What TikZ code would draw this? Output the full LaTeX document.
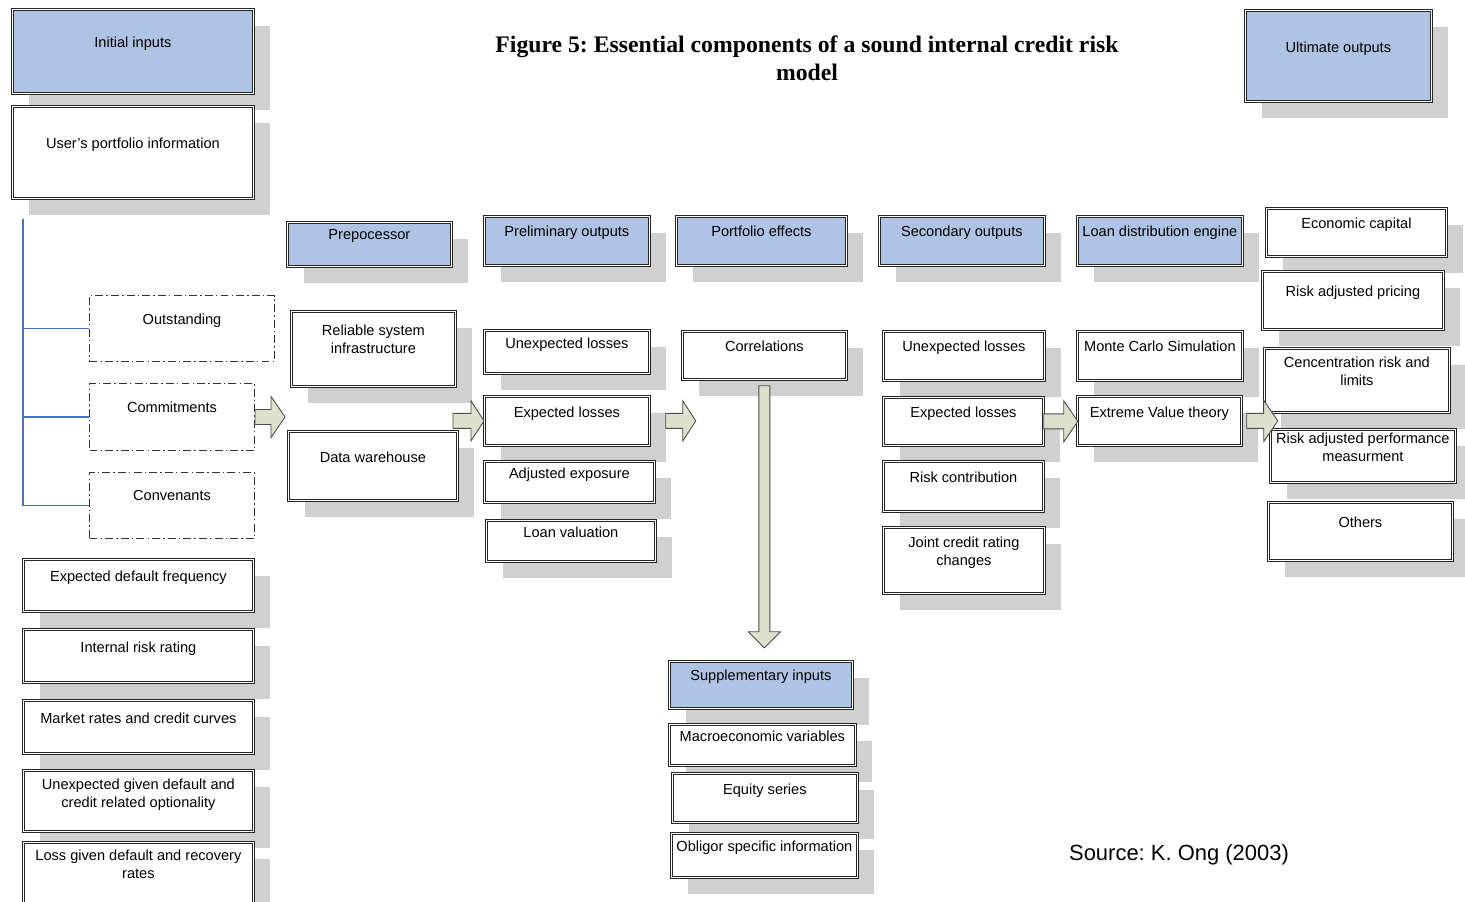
\documentclass[tikz,border=0pt]{standalone}
\usepackage{fontspec}
\setmainfont{Liberation Sans}
\newfontfamily\titlefont{Liberation Serif}
\usetikzlibrary{positioning,calc,shadows}

\definecolor{headblue}{RGB}{175,195,228}
\definecolor{shadowgray}{RGB}{208,208,208}
\definecolor{arrowfill}{RGB}{221,224,205}
\definecolor{treeblue}{RGB}{68,114,196}

\begin{document}
\frenchspacing
\begin{tikzpicture}[
        x=0.02cm, y=-0.02cm,
        sz/.style 2 args={minimum width=#1*0.02cm, minimum height=#2*0.02cm},
        txt/.style={anchor=north, inner sep=0pt, align=center, font=\fontsize{8.3}{10.2}\selectfont},
        tl/.style 2 args={label={[txt, yshift=-(#1+1.2)*0.02cm]north:{#2}}},
        box/.style={rectangle, anchor=north west, draw=black!85, double, double distance=0.8pt, line width=0.45pt, fill=white, inner sep=0pt,
            general shadow={fill=shadowgray, shadow xshift=0.34cm, shadow yshift=-0.34cm}},
        head/.style={box, fill=headblue},
        option/.style={rectangle, anchor=north west, draw=black!80, line width=0.6pt, dash pattern=on 4.5pt off 1.8pt on 0.8pt off 1.8pt, inner sep=0pt},
        tree/.style={treeblue, line width=0.7pt},
        fat/.style={draw=black!70, fill=arrowfill, line width=0.5pt, line join=miter},
        pics/fatarrow/.style n args={4}{code={
            \draw[fat] (0,{-#2/2}) -- ({#1-#4},{-#2/2}) -- ({#1-#4},{-#3/2}) -- (#1,0)
                -- ({#1-#4},{#3/2}) -- ({#1-#4},{#2/2}) -- (0,{#2/2}) -- cycle;
        }}
    ]
        \useasboundingbox (0,0) rectangle (1465,902);

        % Titlu
        \node[font=\titlefont\bfseries\fontsize{13.5}{15.9}\selectfont, align=center] (title) at (807,58)
            {Figure 5: Essential components of a sound internal credit risk\\model};

        % Initial inputs
        \node[head, sz={241}{84}, tl={26}{Initial inputs}] (ini) at (12,9) {};
        \node[box, sz={241}{92}, tl={30}{User's portfolio information}] (portf) at (12,106) {};
        \node[option, sz={185}{66}, tl={17}{Outstanding}] (outst) at (89,295) {};
        \node[option, sz={165}{67}, tl={17}{Commitments}] (commit) at (89,383) {};
        \node[option, sz={165}{66}, tl={17}{Convenants}] (conv) at (89,472) {};
        \node[box, sz={230}{52}, tl={10}{Expected default frequency}] (edf) at (23,559) {};
        \node[box, sz={230}{53}, tl={11}{Internal risk rating}] (irr) at (23,629) {};
        \node[box, sz={230}{53}, tl={11}{Market rates and credit curves}] (mrc) at (23,700) {};
        \node[box, sz={230}{61}, tl={7}{Unexpected given default and\\credit related optionality}] (ugd) at (23,770) {};
        \node[box, sz={230}{80}, tl={6}{Loss given default and recovery\\rates}] (lgd) at (23,842) {};

        % Arbore
        \coordinate (trunk) at ($(portf.south west)+(11,20)$);
        \draw[tree] (trunk) |- (conv.west);
        \draw[tree] (trunk |- outst.west) -- (outst.west);
        \draw[tree] (trunk |- commit.west) -- (commit.west);

        % Preprocessor
        \node[head, sz={164}{44}, tl={6}{Prepocessor}] (prep) at (287,222) {};
        \node[box, sz={164}{75}, tl={12}{Reliable system\\infrastructure}] (relsys) at (291,311) {};
        \node[box, sz={169}{69}, tl={19}{Data warehouse}] (datawh) at (288,431) {};

        % Preliminary outputs
        \node[head, sz={165}{49}, tl={8}{Preliminary outputs}] (prelim) at (484,216) {};
        \node[box, sz={165}{43}, tl={6}{Unexpected losses}] (unexp) at (484,330) {};
        \node[box, sz={165}{49}, tl={9}{Expected losses}] (exploss) at (484,396) {};
        \node[box, sz={170}{41}, tl={5}{Adjusted exposure}] (adjexp) at (484,461) {};
        \node[box, sz={169}{41}, tl={5}{Loan valuation}] (loanval) at (486,520) {};

        % Portfolio effects
        \node[head, sz={170}{49}, tl={8}{Portfolio effects}] (portef) at (676,216) {};
        \node[box, sz={164}{48}, tl={8}{Correlations}] (corr) at (682,331) {};

        % Supplementary inputs
        \node[head, sz={183}{47}, tl={7}{Supplementary inputs}] (supp) at (669,661) {};
        \node[box, sz={186}{41}, tl={5}{Macroeconomic variables}] (macro) at (669,724) {};
        \node[box, sz={185}{49}, tl={9}{Equity series}] (equity) at (672,773) {};
        \node[box, sz={186}{44}, tl={6}{Obligor specific information}] (oblig) at (671,833) {};

        % Secondary outputs
        \node[head, sz={165}{49}, tl={8}{Secondary outputs}] (secout) at (879,216) {};
        \node[box, sz={161}{49}, tl={8}{Unexpected losses}] (secunexp) at (883,331) {};
        \node[box, sz={160}{48}, tl={8}{Expected losses}] (secexp) at (883,397) {};
        \node[box, sz={160}{50}, tl={9}{Risk contribution}] (riskcon) at (883,461) {};
        \node[box, sz={161}{66}, tl={8}{Joint credit rating\\changes}] (joint) at (883,527) {};

        % Loan distribution engine
        \node[head, sz={165}{49}, tl={8}{Loan distribution engine}] (lde) at (1077,216) {};
        \node[box, sz={165}{49}, tl={8}{Monte Carlo Simulation}] (mcs) at (1077,331) {};
        \node[box, sz={164}{49}, tl={9}{Extreme Value theory}] (evt) at (1077,396) {};

        % Ultimate outputs
        \node[head, sz={186}{91}, tl={30}{Ultimate outputs}] (ultim) at (1245,10) {};
        \node[box, sz={180}{48}, tl={8}{Economic capital}] (econ) at (1266,208) {};
        \node[box, sz={181}{58}, tl={13}{Risk adjusted pricing}] (rap) at (1262,271) {};
        \node[box, sz={185}{64}, tl={7}{Cencentration risk and\\limits}] (cenc) at (1264,348) {};
        \node[box, sz={185}{53}, tl={2}{Risk adjusted performance\\measurment}] (rapm) at (1270,429) {};
        \node[box, sz={184}{58}, tl={13}{Others}] (others) at (1268,502) {};

        % Sageti
        \pic (arr1) at (commit.east) {fatarrow={30}{15}{41}{14}};
        \pic (arr2) at ($(exploss.west)+(-31,0)$) {fatarrow={31}{15}{40}{13}};
        \pic (arr3) at ($(exploss.east)+(16,0)$) {fatarrow={30}{15}{40}{13}};
        \pic (arr4) at (secexp.east) {fatarrow={34}{15}{41}{14}};
        \pic (arr5) at ($(evt.east)+(5,0)$) {fatarrow={31}{15}{41}{14}};
        \pic[rotate=-90] (arr6) at ($(corr.south)+(0,6)$) {fatarrow={262}{11}{32}{16}};

        % Sursa
        \node[font=\fontsize{12.5}{15}\selectfont] (src) at (1179,855) {Source: K. Ong (2003)};

    \end{tikzpicture}
\end{document}
